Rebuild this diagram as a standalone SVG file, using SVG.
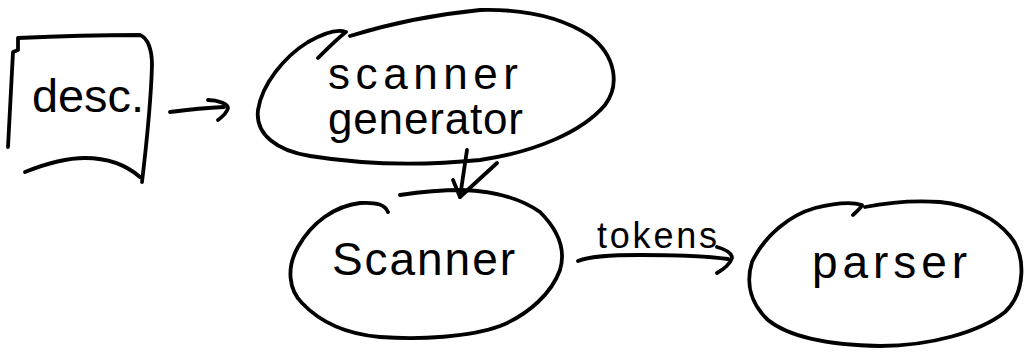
<svg xmlns="http://www.w3.org/2000/svg" width="1029" height="352" viewBox="0 0 1029 352">
  <style>
    .ink { fill: none; stroke: #000; stroke-width: 3.8; stroke-linecap: round; stroke-linejoin: round; }
    .lbl { font-family: "Liberation Sans", Arial, sans-serif; fill: #000; }
  </style>
  <rect width="1029" height="352" fill="#fff"/>

  <!-- description document -->
  <g id="desc">
    <path class="ink" d="M8,147 L13,52 L18,50 L18,38 C60,36 100,35 140,35 C148,38 152,50 152,65 C151,100 147,140 142,182"/>
    <path class="ink" d="M25,172 C45,164 65,158 85,158 C105,158 125,164 140,177"/>
    <text class="lbl" x="32" y="112" font-size="46" textLength="112" lengthAdjust="spacingAndGlyphs">desc.</text>
  </g>

  <!-- scanner generator -->
  <g id="scanner-generator">
    <path class="ink" d="M318,58 C328,48 338,38 346,32 C336,28 322,34 308,42 C284,57 262,84 258,110 C255,135 278,151 310,156 C360,164 420,166 480,160 C535,152 582,132 605,105 C620,85 616,56 590,36 C560,16 520,9 480,10 C440,14 395,22 350,36"/>
    <text class="lbl" x="328" y="89" font-size="44" textLength="190" lengthAdjust="spacing">scanner</text>
    <text class="lbl" x="328" y="134" font-size="44" textLength="195" lengthAdjust="spacing">generator</text>
  </g>

  <!-- scanner -->
  <g id="scanner">
    <path class="ink" d="M388,212 C385,205 378,202 360,203 C335,206 312,222 298,247 C286,268 289,290 302,303 C320,322 345,334 380,337 C420,340 470,337 500,326 C530,314 552,292 560,270 C566,250 558,230 540,212 C520,198 495,191 462,190 C440,190 420,192 400,195"/>
    <text class="lbl" x="332" y="275" font-size="46" textLength="183" lengthAdjust="spacing">Scanner</text>
  </g>

  <!-- parser -->
  <g id="parser">
    <path class="ink" d="M853,215 C858,210 862,207 862,205 C850,201 835,203 815,208 C790,215 765,235 752,262 C745,285 752,305 768,320 C790,338 830,345 880,346 C930,346 980,332 1005,312 C1026,292 1026,255 1010,236 C995,218 970,205 940,202 C910,200 885,203 865,207"/>
    <text class="lbl" x="812" y="278" font-size="46" textLength="155" lengthAdjust="spacing">parser</text>
  </g>

  <!-- connectors -->
  <g id="connectors">
    <!-- desc. to scanner generator -->
    <path class="ink" d="M170,112 C185,110 200,108 224,107"/>
    <path class="ink" d="M208,100 C218,100 228,104 228,108 C227,113 222,117 218,120"/>
    <!-- scanner generator to scanner -->
    <path class="ink" d="M467,150 L460,197"/>
    <path class="ink" d="M453,180 L460,197 L497,163"/>
    <!-- scanner to parser -->
    <path class="ink" d="M578,261 C590,256 610,255 640,255 C670,255 700,255 728,259"/>
    <path class="ink" d="M717,247 C724,249 732,252 732,258 C730,264 724,269 717,273"/>
    <text class="lbl" x="597" y="248" font-size="36" textLength="120" lengthAdjust="spacing">tokens</text>
  </g>
</svg>
